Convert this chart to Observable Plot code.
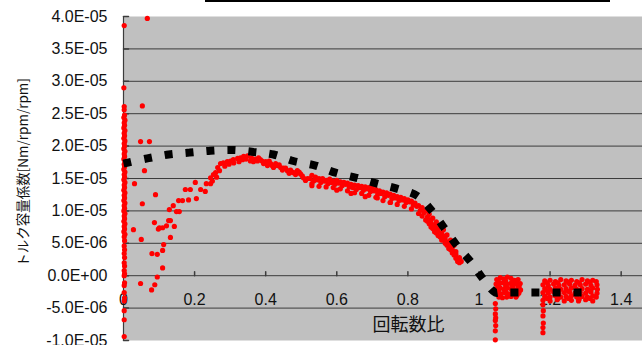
<!DOCTYPE html>
<html><head><meta charset="utf-8">
<script src="https://cdn.jsdelivr.net/npm/d3@7"></script>
<script src="https://cdn.jsdelivr.net/npm/@observablehq/plot@0.6"></script>
<style>
body{margin:0;background:#fff;}
#wrap{position:relative;width:642px;height:345px;overflow:hidden;}
#titlebar{position:absolute;left:205px;top:0;width:405px;height:2px;background:#000;}
</style></head><body>
<div id="wrap"><div id="titlebar"></div></div>
<script>
// y values are in units of 1E-05 (Nm/rpm/rpm)
const xTitle = "回転数比";
const yTitle = "トルク容量係数[Nm/rpm/rpm]";
const xTicks = [0, 0.2, 0.4, 0.6, 0.8, 1, 1.2, 1.4];
const xTickLabels = ["0", "0.2", "0.4", "0.6", "0.8", "1", "1.2", "1.4"];
const yTicks = [-1, -0.5, 0, 0.5, 1, 1.5, 2, 2.5, 3, 3.5, 4];
const yTickLabels = ["-1.0E-05", "-5.0E-06", "0.0E+00", "5.0E-06", "1.0E-05", "1.5E-05", "2.0E-05", "2.5E-05", "3.0E-05", "3.5E-05", "4.0E-05"];

// black (fitted) curve
const fitX = [0, 0.067, 0.127, 0.186, 0.245, 0.307, 0.366, 0.422, 0.478, 0.54, 0.596, 0.655, 0.714, 0.771, 0.827, 0.869, 0.903, 0.94, 0.979, 1.013, 1.046, 1.06, 1.30];
const fitY = [1.73, 1.81, 1.87, 1.90, 1.93, 1.94, 1.91, 1.87, 1.77, 1.70, 1.59, 1.51, 1.42, 1.34, 1.23, 0.99, 0.73, 0.45, 0.20, -0.06, -0.26, -0.26, -0.26];

// red measured points [x, y]
const redAxisColumn = [[0.002,3.86],[0.001,2.90],[0.002,2.61],[0.002,2.56],
[0.003,2.48],[0.001,2.44],[0.004,2.40],[0.002,2.36],[0.003,2.32],[0.001,2.28],[0.004,2.24],[0.002,2.20],[0.003,2.16],[0.001,2.12],[0.004,2.08],[0.002,2.04],[0.003,2.00],[0.001,1.96],[0.004,1.92],[0.002,1.88],[0.003,1.84],[0.001,1.80],[0.004,1.76],[0.002,1.72],[0.003,1.68],[0.001,1.64],[0.004,1.60],[0.002,1.56],[0.003,1.52],[0.001,1.48],[0.004,1.44],[0.002,1.40],[0.003,1.36],[0.001,1.32],[0.004,1.28],[0.002,1.24],[0.003,1.20],[0.001,1.16],[0.004,1.12],[0.002,1.08],[0.003,1.04],[0.001,1.00],[0.004,0.96],[0.002,0.92],[0.003,0.88],[0.001,0.84],[0.004,0.80],[0.002,0.76],[0.003,0.72],[0.001,0.68],[0.004,0.64],[0.002,0.60],
[0.003,0.54],[0.002,0.46],[0.003,0.40],[0.002,0.34],[0.003,0.28],[0.002,0.20],[0.003,0.15],[0.002,0.08],[0.003,0.03],[0.002,0.00],[0.003,-0.11],[0.002,-0.15],[0.002,-0.26],[0.003,-0.34],[0.002,-0.39],[0.002,-0.54],[0.002,-0.68],[0.002,-0.94]];

const redRiseScatter = [[0.067,3.97],[0.053,2.62],[0.048,2.07],[0.073,2.07],[0.059,1.62],[0.031,1.42],[0.090,1.25],[0.053,1.11],[0.028,0.71],[0.050,0.56],[0.087,0.82],[0.098,0.72],[0.110,0.74],[0.121,0.77],[0.132,0.85],[0.143,0.76],[0.132,0.59],[0.113,0.48],[0.110,0.39],[0.080,0.34],[0.095,0.33],[0.110,0.12],[0.095,-0.02],[0.088,-0.14],[0.079,-0.22],[0.048,-0.12],[0.129,1.02],[0.140,1.08],[0.149,0.99],[0.157,0.99],[0.155,1.16],[0.166,1.16],[0.183,1.17],[0.174,1.33],[0.188,1.33],[0.205,1.19],[0.202,1.44],[0.217,1.33],[0.230,1.30],[0.233,1.42],[0.245,1.42],[0.127,0.85],[0.101,0.74]];

const redRiseBand = [[0.245,1.51],[0.253,1.56],[0.259,1.59],[0.265,1.67],[0.273,1.73],[0.281,1.74],[0.292,1.76],[0.301,1.77],[0.309,1.79],[0.321,1.81],[0.329,1.82],[0.338,1.84],[0.349,1.85],[0.357,1.77],[0.366,1.76],[0.377,1.77],[0.385,1.79],[0.394,1.73],[0.405,1.70],[0.414,1.73],[0.422,1.67],[0.433,1.70],[0.442,1.67],[0.450,1.66],[0.461,1.62],[0.470,1.63],[0.478,1.59],[0.489,1.62],[0.498,1.57],[0.506,1.51],[0.518,1.50],
[0.250,1.46],[0.262,1.52],[0.270,1.62],[0.285,1.69],[0.297,1.72],[0.310,1.74],[0.325,1.76],[0.335,1.79],[0.345,1.80],[0.360,1.82],[0.372,1.80],[0.380,1.82],[0.390,1.77],[0.400,1.76],[0.410,1.77],[0.418,1.70],[0.428,1.73],[0.438,1.71],[0.447,1.63],[0.456,1.66],[0.466,1.58],[0.475,1.60],[0.484,1.56],[0.494,1.60],[0.503,1.54],[0.512,1.47]];

const redFallBand = [[0.525,1.50],[0.535,1.46],[0.545,1.48],[0.555,1.44],[0.565,1.46],[0.575,1.42],[0.585,1.44],[0.595,1.41],[0.605,1.43],[0.615,1.39],[0.625,1.41],[0.635,1.37],[0.645,1.36],[0.655,1.33],[0.665,1.36],[0.675,1.32],[0.685,1.34],[0.695,1.30],[0.705,1.31],[0.715,1.26],[0.725,1.27],[0.735,1.22],[0.745,1.24],[0.755,1.19],[0.765,1.20],[0.775,1.16],[0.785,1.17],[0.795,1.13],[0.805,1.14],[0.815,1.09],[0.825,1.07],[0.835,1.01],[0.845,0.97],[0.855,0.91],[0.865,0.86],[0.875,0.79],[0.885,0.74],[0.895,0.66],[0.905,0.61],[0.915,0.52],[0.925,0.45],[0.935,0.37],[0.945,0.28],[0.950,0.22],
[0.53,1.55],[0.54,1.52],[0.55,1.50],[0.56,1.50],[0.57,1.47],[0.58,1.49],[0.59,1.46],[0.60,1.47],[0.61,1.45],[0.62,1.44],[0.63,1.43],[0.64,1.41],[0.65,1.40],[0.66,1.39],[0.67,1.38],[0.68,1.37],[0.69,1.36],[0.70,1.35],[0.71,1.33],[0.72,1.31],[0.73,1.29],[0.74,1.28],[0.75,1.26],[0.76,1.24],[0.77,1.22],[0.78,1.21],[0.79,1.19],[0.80,1.17],[0.81,1.15],[0.82,1.12],[0.83,1.08],[0.84,1.05],[0.85,1.00],[0.86,0.95],[0.87,0.89],[0.88,0.83],[0.89,0.77],[0.90,0.71],[0.91,0.63],[0.92,0.55],[0.93,0.47],
[0.53,1.42],[0.55,1.38],[0.57,1.37],[0.59,1.36],[0.61,1.34],[0.63,1.31],[0.65,1.28],[0.67,1.27],[0.69,1.24],[0.71,1.21],[0.73,1.16],[0.75,1.13],[0.77,1.10],[0.79,1.07],[0.81,1.03],[0.83,0.96],[0.84,0.92],[0.85,0.86],[0.86,0.80],[0.87,0.73],[0.88,0.66],[0.89,0.60],[0.90,0.55],[0.91,0.47],[0.92,0.40],[0.93,0.32],[0.94,0.25],[0.945,0.20],
[0.865,0.75],[0.875,0.68],[0.885,0.62],[0.895,0.55],[0.905,0.50],[0.915,0.42],[0.925,0.35],[0.935,0.27],[0.940,0.22],[0.640,1.27],[0.714,1.20],[0.751,1.13],[0.530,1.39],[0.600,1.32],[0.680,1.22],
[0.855,0.84],[0.865,0.80],[0.875,0.74],[0.885,0.69],[0.895,0.61],[0.905,0.56],[0.915,0.48],[0.925,0.40],[0.935,0.33],[0.945,0.24]];

const redNearOne = [[1.050,-0.06],[1.060,-0.03],[1.070,-0.05],[1.080,-0.02],[1.090,-0.04],[1.100,-0.07],[1.110,-0.06],
[1.048,-0.13],[1.058,-0.12],[1.068,-0.11],[1.078,-0.13],[1.088,-0.12],[1.098,-0.13],[1.108,-0.14],[1.116,-0.12],
[1.050,-0.20],[1.060,-0.19],[1.070,-0.21],[1.080,-0.19],[1.090,-0.20],[1.100,-0.22],[1.110,-0.20],[1.117,-0.22],
[1.052,-0.27],[1.062,-0.28],[1.072,-0.26],[1.082,-0.28],[1.092,-0.27],[1.102,-0.29],[1.112,-0.27],
[1.056,-0.33],[1.066,-0.34],[1.078,-0.33],[1.090,-0.32],[1.104,-0.33],
[1.055,-0.09],[1.075,-0.08],[1.095,-0.09],[1.105,-0.10],[1.055,-0.16],[1.075,-0.16],[1.095,-0.17],[1.113,-0.17],[1.055,-0.23],[1.075,-0.24],[1.095,-0.24],[1.113,-0.24],[1.058,-0.30],[1.085,-0.30],[1.107,-0.30],
[1.046,-0.43],[1.047,-0.51],[1.046,-0.59],[1.047,-0.65],[1.046,-0.69],[1.047,-0.77],[1.046,-0.85],[1.046,-0.99]];

const redBeyond = [[1.185,-0.08],[1.200,-0.07],[1.215,-0.09],[1.230,-0.06],[1.245,-0.08],[1.260,-0.07],[1.275,-0.09],[1.290,-0.06],[1.305,-0.08],[1.320,-0.07],[1.330,-0.09],
[1.180,-0.14],[1.195,-0.15],[1.210,-0.13],[1.225,-0.15],[1.240,-0.14],[1.255,-0.13],[1.270,-0.15],[1.285,-0.14],[1.300,-0.13],[1.315,-0.15],[1.332,-0.14],
[1.185,-0.20],[1.200,-0.21],[1.215,-0.19],[1.230,-0.21],[1.245,-0.20],[1.260,-0.19],[1.275,-0.21],[1.290,-0.20],[1.305,-0.21],[1.320,-0.19],[1.333,-0.21],
[1.180,-0.26],[1.195,-0.27],[1.210,-0.25],[1.225,-0.27],[1.240,-0.26],[1.255,-0.25],[1.270,-0.27],[1.285,-0.26],[1.300,-0.27],[1.315,-0.25],[1.332,-0.27],
[1.185,-0.32],[1.200,-0.33],[1.215,-0.31],[1.230,-0.33],[1.245,-0.32],[1.260,-0.31],[1.275,-0.33],[1.290,-0.32],[1.305,-0.33],[1.320,-0.31],[1.330,-0.33],
[1.180,-0.38],[1.200,-0.39],[1.220,-0.37],[1.240,-0.39],[1.260,-0.38],[1.280,-0.39],[1.300,-0.37],[1.320,-0.39],
[1.192,-0.11],[1.222,-0.11],[1.252,-0.10],[1.282,-0.11],[1.312,-0.10],[1.192,-0.23],[1.222,-0.23],[1.252,-0.24],[1.282,-0.23],[1.312,-0.23],[1.192,-0.35],[1.222,-0.35],[1.252,-0.35],[1.282,-0.36],[1.312,-0.35],
[1.180,-0.45],[1.181,-0.54],[1.180,-0.62],[1.181,-0.73],[1.180,-0.80],[1.180,-0.88]];

const fit = fitX.map((x, i) => ({x, y: fitY[i]}));
const red = [...redAxisColumn, ...redRiseScatter, ...redRiseBand, ...redFallBand, ...redNearOne, ...redBeyond].map(([x, y]) => ({x, y}));
const tickShape = {draw(ctx, l) { ctx.moveTo(0, 0); ctx.lineTo(0, -l); }};
const axisColor = "#3c3c3c";

const chart = Plot.plot({
  width: 642, height: 345,
  marginLeft: 123, marginRight: 0, marginTop: 16, marginBottom: 5,
  x: {domain: [0, 1.46], axis: null},
  y: {domain: [-1, 4], axis: null},
  style: {fontFamily: "'Liberation Sans', Arial, sans-serif", fontSize: "16px", color: "#111", background: "white", overflow: "visible"},
  marks: [
    Plot.frame({fill: "#c0c0c0", stroke: null}),
    Plot.ruleY(yTicks.filter(d => d > yTicks[0] && d < yTicks[yTicks.length - 1]), {stroke: axisColor, strokeWidth: 1}),
    Plot.ruleX([0], {stroke: axisColor, strokeWidth: 1.2}),
    Plot.vector(yTicks, {x: () => 0, y: d => d, length: 5, rotate: 90, anchor: "start", shape: tickShape, stroke: axisColor}),
    Plot.vector(xTicks, {x: d => d, y: () => 0, length: 4, rotate: 0, anchor: "start", shape: tickShape, stroke: axisColor}),
    Plot.text(yTicks, {x: () => 0, y: d => d, text: (d, i) => yTickLabels[i], textAnchor: "end", dx: -16, fill: "#111"}),
    Plot.text(xTicks, {x: d => d, y: () => 0, text: (d, i) => xTickLabels[i], dy: 24, fill: "#111"}),
    Plot.text([yTitle], {frameAnchor: "left", textAnchor: "middle", lineAnchor: "middle", rotate: -90, dx: -100, dy: -6, fontFamily: "'Noto Sans CJK JP', sans-serif", fontSize: 13.5, fill: "#111"}),
    Plot.text([xTitle], {frameAnchor: "bottom-left", textAnchor: "middle", lineAnchor: "middle", dx: 285, dy: -15, fontFamily: "'Noto Sans CJK JP', sans-serif", fontSize: 18, fill: "#111"}),
    Plot.dot(red, {x: "x", y: "y", r: 2.6, fill: "#ff0000", stroke: null}),
    Plot.line(fit, {x: "x", y: "y", curve: "catmull-rom", stroke: "#000", strokeWidth: 8, strokeDasharray: "8,13", strokeLinecap: "butt", strokeLinejoin: "miter"})
  ]
});
document.getElementById("wrap").prepend(chart);
</script>
</body></html>
